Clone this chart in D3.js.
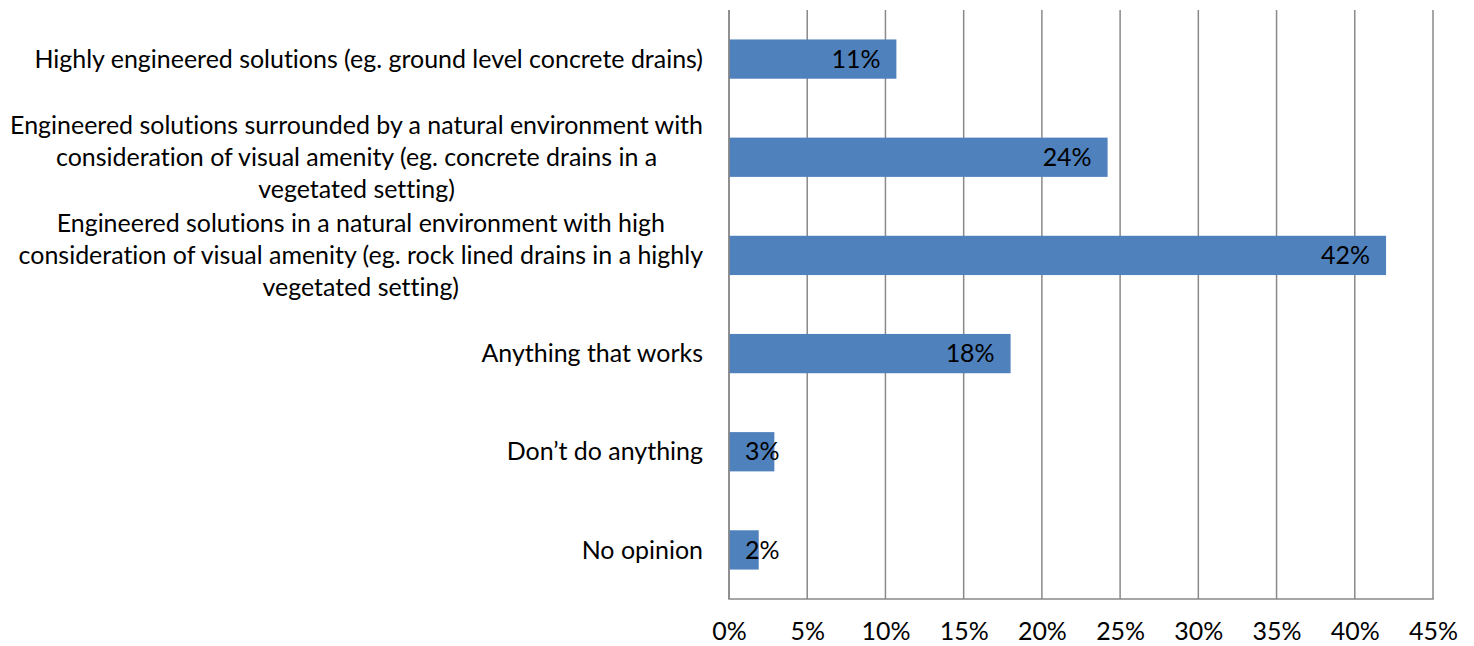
<!DOCTYPE html>
<html>
<head>
<meta charset="utf-8">
<script src="https://cdn.jsdelivr.net/npm/d3@7"></script>
<style>
  html, body { margin: 0; padding: 0; background: #fff; }
  svg { display: block; }
  text { font-family: Lato, "Open Sans", sans-serif; fill: #000; font-variant-ligatures: none; font-feature-settings: "liga" 0, "clig" 0; }
</style>
</head>
<body>
<svg id="chart" width="1474" height="646"></svg>
<script>
const categories = [
  "Highly engineered solutions (eg. ground level concrete drains)",
  "Engineered solutions surrounded by a natural environment with\nconsideration of visual amenity (eg. concrete drains in a\nvegetated setting)",
  "Engineered solutions in a natural environment with high\nconsideration of visual amenity (eg. rock lined drains in a highly\nvegetated setting)",
  "Anything that works",
  "Don\u2019t do anything",
  "No opinion"
];
const values = [10.7, 24.2, 42.0, 18.0, 2.9, 1.9];
const valueLabels = ["11%", "24%", "42%", "18%", "3%", "2%"];
const tickValues = [0, 5, 10, 15, 20, 25, 30, 35, 40, 45];
const tickLabels = ["0%", "5%", "10%", "15%", "20%", "25%", "30%", "35%", "40%", "45%"];

const svg = d3.select("#chart");
const plot = { left: 729, right: 1433, top: 10, bottom: 599 };
const gridColor = "#898989";
const barColor = "#4F81BD";

// font size calibrated so that the first label matches the reference width
const probe = svg.append("text").attr("font-size", 100).text(categories[0]);
const w100 = probe.node().getComputedTextLength();
probe.remove();
const fs = 100 * 669 / w100;
const lineH = 32.3;

const x = d3.scaleLinear().domain([0, 45]).range([plot.left, plot.right]);
const y = d3.scaleBand().domain(d3.range(categories.length))
  .range([plot.top, plot.bottom]).paddingInner(0.6).paddingOuter(0.3);
const yBand = d3.scaleBand().domain(d3.range(categories.length))
  .range([plot.top, plot.bottom]);

// gridlines
svg.append("g").selectAll("line").data(tickValues).join("line")
  .attr("x1", d => x(d)).attr("x2", d => x(d))
  .attr("y1", plot.top).attr("y2", plot.bottom)
  .attr("stroke", gridColor).attr("stroke-width", 1.5);

// bars
svg.append("g").selectAll("rect").data(values).join("rect")
  .attr("x", x(0)).attr("y", (d, i) => y(i))
  .attr("width", d => x(d) - x(0)).attr("height", y.bandwidth())
  .attr("fill", barColor);

// axis lines
svg.append("line").attr("x1", x(0)).attr("x2", x(0))
  .attr("y1", plot.top).attr("y2", plot.bottom)
  .attr("stroke", gridColor).attr("stroke-width", 1.5);
svg.append("line").attr("x1", x(0) - 0.75).attr("x2", x(45) + 0.75)
  .attr("y1", plot.bottom).attr("y2", plot.bottom)
  .attr("stroke", gridColor).attr("stroke-width", 1.5);

// x tick labels
const xAxis = d3.axisBottom(x).tickValues(tickValues)
  .tickFormat((d, i) => tickLabels[i]).tickSize(0).tickPadding(0);
const xg = svg.append("g").attr("transform", `translate(0,${plot.bottom})`).call(xAxis);
xg.select(".domain").remove();
xg.selectAll("text").attr("font-family", "Lato, 'Open Sans', sans-serif")
  .attr("font-size", fs).attr("fill", "#000").attr("dy", null).attr("y", 41);

// category labels
const cg = svg.append("g");
categories.forEach((c, i) => {
  const lines = c.split("\n");
  const cy = yBand(i) + yBand.bandwidth() / 2;
  const t = cg.append("text").attr("text-anchor", "middle").attr("font-size", fs);
  const startY = cy - (lines.length - 1) * lineH / 2 + fs * 0.35;
  lines.forEach((ln, k) => {
    t.append("tspan").attr("x", 0).attr("y", startY + k * lineH).text(ln);
  });
  const maxW = d3.max(t.selectAll("tspan").nodes(), n => n.getComputedTextLength());
  const rightEdge = 703;
  t.selectAll("tspan").attr("x", rightEdge - maxW / 2);
});

// value labels (inside end)
const lg = svg.append("g");
values.forEach((v, i) => {
  const t = lg.append("text").attr("font-size", fs).attr("text-anchor", "end")
    .attr("y", y(i) + y.bandwidth() / 2 + fs * 0.35).text(valueLabels[i]);
  const w = t.node().getComputedTextLength();
  t.attr("x", Math.max(x(v) - 16, x(0) + 16 + w));
});
</script>
</body>
</html>
